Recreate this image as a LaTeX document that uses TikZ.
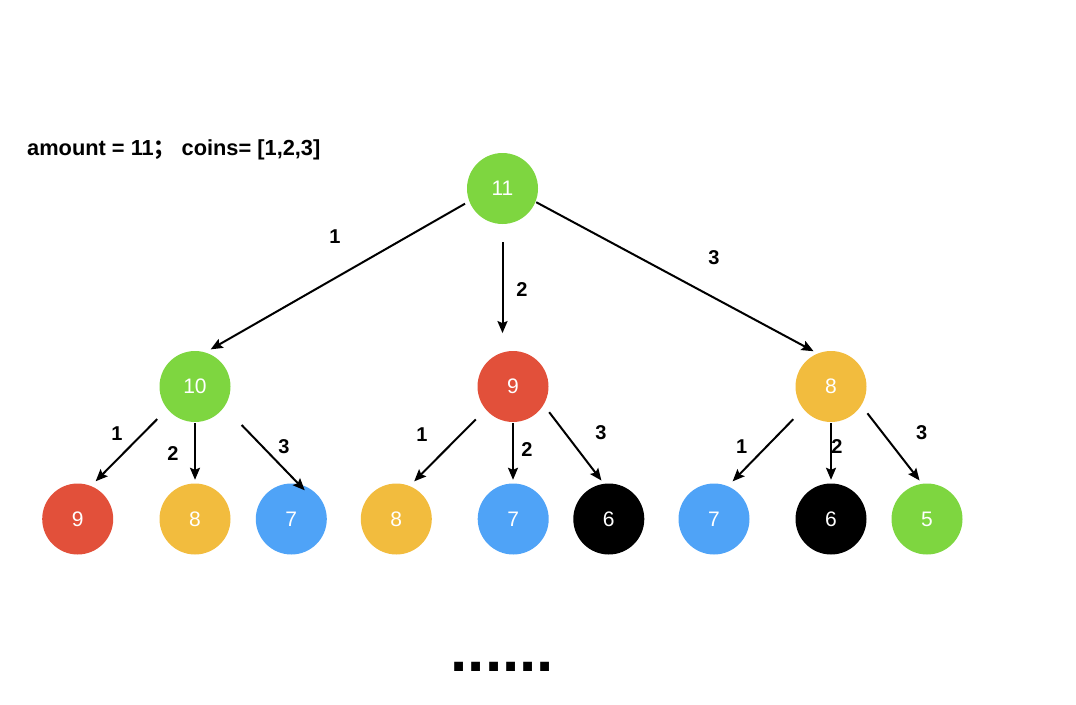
\documentclass[tikz,border=0pt]{standalone}
\usepackage{fontspec}
\setmainfont{Liberation Sans}
\newfontfamily\cjkfont{Noto Sans CJK SC}
\usetikzlibrary{arrows.meta}
\definecolor{cgreen}{RGB}{126,214,64}
\definecolor{cred}{RGB}{226,80,58}
\definecolor{cyellow}{RGB}{242,188,62}
\definecolor{cblue}{RGB}{79,163,247}
\tikzset{
  coin/.style={circle, minimum size=71pt, inner sep=0pt, draw=none, text=white,
    font=\fontsize{21}{21}\selectfont},
  edgearrow/.style={-{Stealth[length=12pt,width=10pt,inset=2pt]}, line width=2pt, black},
  lbl/.style={font=\fontsize{20}{20}\selectfont\bfseries, inner sep=0pt}
}
\begin{document}
\begin{tikzpicture}[x=1pt,y=-1pt]
\useasboundingbox (0,0) rectangle (1076,704);
% title
\node[anchor=base west, inner sep=0pt, font=\fontsize{21.8}{21.8}\selectfont\bfseries] (title) at (27,155) {amount = 11{\cjkfont ；} coins= [1,2,3]};
% nodes
\node[coin, fill=cgreen] (r) at (502.5,188.5) {11};
\node[coin, fill=cgreen] (a) at (195,386.5) {10};
\node[coin, fill=cred] (b) at (513,386.5) {9};
\node[coin, fill=cyellow] (c) at (831,386.5) {8};
\node[coin, fill=cred] (a1) at (77.7,519) {9};
\node[coin, fill=cyellow] (a2) at (195,519) {8};
\node[coin, fill=cblue] (a3) at (291.3,519) {7};
\node[coin, fill=cyellow] (b1) at (396.3,519) {8};
\node[coin, fill=cblue] (b2) at (513.2,519) {7};
\node[coin, fill=black] (b3) at (608.8,519) {6};
\node[coin, fill=cblue] (c1) at (714,519) {7};
\node[coin, fill=black] (c2) at (831,519) {6};
\node[coin, fill=cgreen] (c3) at (927,519) {5};
% edges
\draw[edgearrow, shorten <=4.8pt, shorten >=6pt] (r.201.5) -- (a.73.6);
\draw[edgearrow, shorten <=18pt, shorten >=17.7pt] (r.south) -- (r.south |- b.north);
\draw[edgearrow, shorten <=0.7pt, shorten >=4.6pt] (r.-22.4) -- (c.112);
\draw[edgearrow, shorten <=14.3pt, shorten >=6.5pt] (a.219.7) -- (a1.68.2);
\draw[edgearrow, shorten <=1pt, shorten >=3.5pt] (a.south) -- (a2.north);
\draw[edgearrow, shorten <=25pt, shorten >=-8.7pt] (a.-35.5) -- (a3.78.4);
\draw[edgearrow, shorten <=14pt, shorten >=6.4pt] (b.220) -- (b1.68.5);
\draw[edgearrow, shorten <=1pt, shorten >=3.5pt] (b.south) -- (b.south |- b2.north);
\draw[edgearrow, shorten <=9.2pt, shorten >=3.9pt] (b.-31.7) -- (b3.98);
\draw[edgearrow, shorten <=14.3pt, shorten >=6.7pt] (c.219.7) -- (c1.67.7);
\draw[edgearrow, shorten <=1pt, shorten >=3.5pt] (c.south) -- (c2.north);
\draw[edgearrow, shorten <=10pt, shorten >=4pt] (c.-32.6) -- (c3.98.7);
% labels
\node[lbl] (lr1) at (335,237) {1};
\node[lbl] (lr2) at (522,290) {2};
\node[lbl] (lr3) at (714,258) {3};
\node[lbl] (la1) at (117,434) {1};
\node[lbl] (la2) at (173,454) {2};
\node[lbl] (la3) at (284,447) {3};
\node[lbl] (lb1) at (422,435) {1};
\node[lbl] (lb2) at (527,450) {2};
\node[lbl] (lb3) at (601,433) {3};
\node[lbl] (lc1) at (741.7,447) {1};
\node[lbl] (lc2) at (837,447) {2};
\node[lbl] (lc3) at (921.7,433) {3};
% ellipsis
\node[anchor=base, inner sep=0pt, font=\fontsize{62}{62}\selectfont\bfseries] (dots) at (502.3,671) {......};
\end{tikzpicture}
\end{document}
